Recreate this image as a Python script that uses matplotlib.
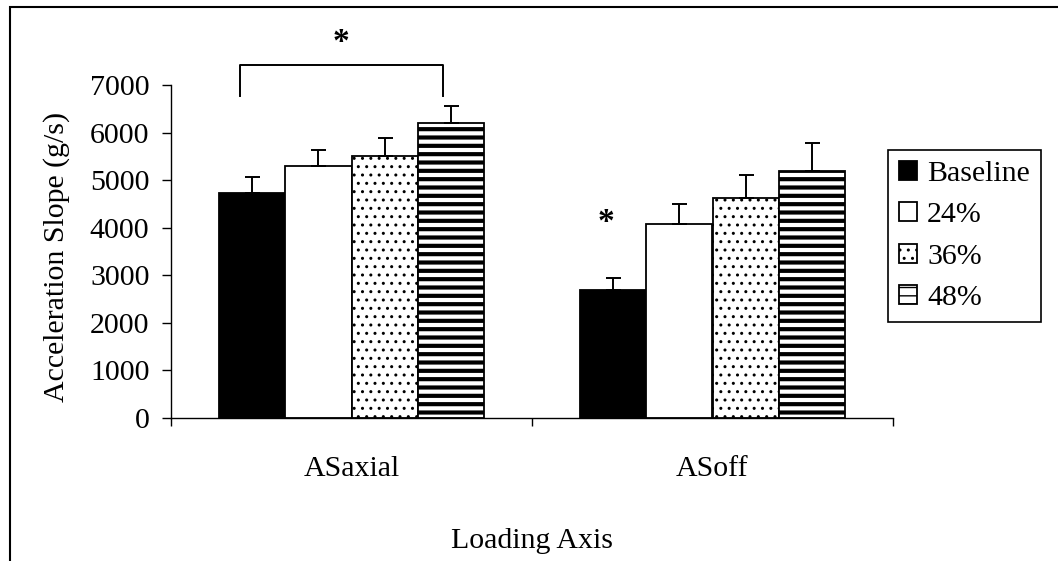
import numpy as np
import matplotlib
matplotlib.use("Agg")
import matplotlib.pyplot as plt
from matplotlib.patches import Rectangle

plt.rcParams['font.family'] = ['Liberation Serif', 'DejaVu Serif']
plt.rcParams['font.size'] = 21.5

# data
categories = ['ASaxial', 'ASoff']
series = ['Baseline', '24%', '36%', '48%']
means = {
    'Baseline': [4740, 2690],
    '24%': [5300, 4080],
    '36%': [5510, 4630],
    '48%': [6200, 5190],
}
errors = {
    'Baseline': [320, 260],
    '24%': [330, 410],
    '36%': [370, 470],
    '48%': [360, 600],
}
fills = {'Baseline': 'black', '24%': 'white', '36%': 'white', '48%': 'white'}
hatches = {'Baseline': None, '24%': None, '36%': '..', '48%': '--'}
y_ticks = [0, 1000, 2000, 3000, 4000, 5000, 6000, 7000]

W, H = 1058, 561
fig = plt.figure(figsize=(W / 100, H / 100), dpi=100)
ax = fig.add_axes([171 / W, 1 - 418 / H, (893 - 171) / W, (418 - 85) / H])

x = np.arange(len(categories))
width = 0.183
offsets = (np.arange(len(series)) - 1.5) * width

for i, name in enumerate(series):
    pos = x + offsets[i]
    bars = ax.bar(pos, means[name], width, color=fills[name], edgecolor='black',
                  linewidth=1.3, hatch=hatches[name], label=name, zorder=2)
    if name == '48%':
        for b in bars:
            if hasattr(b, 'set_hatch_linewidth'):
                b.set_hatch_linewidth(3.0)
    ax.errorbar(pos, means[name], yerr=[np.zeros(len(x)), errors[name]],
                fmt='none', ecolor='black', elinewidth=1.4, capsize=5.4,
                capthick=1.4, zorder=3)

# significance marks
left = x[0] + offsets[0] - 0.035
right = x[0] + offsets[3] - 0.022
ax.plot([left, left, right, right], [6760, 7420, 7420, 6760], color='black',
        lw=1.4, clip_on=False)
ax.text((left + right) / 2, 7900, '*', ha='center', va='center',
        fontsize=24, fontweight='bold', clip_on=False)
star_x = x[1] + offsets[0] - 0.02
ax.text(star_x, means['Baseline'][1] + errors['Baseline'][1] + 1150, '*',
        ha='center', va='center', fontsize=24, fontweight='bold')

ax.set_xlim(-0.5, 1.5)
ax.set_ylim(0, 7000)
ax.set_yticks(y_ticks)
ax.set_xticks([-0.5, 0.5, 1.5])
ax.set_xticklabels([])
ax.set_xticks(x, minor=True)
ax.set_xticklabels(categories, minor=True)
ax.tick_params(axis='x', which='major', direction='out', length=6, width=1)
ax.tick_params(axis='x', which='minor', length=0, pad=27)
ax.tick_params(axis='y', direction='out', length=6.5, width=1, pad=9)

for s in ['top', 'right']:
    ax.spines[s].set_visible(False)
for s in ['left', 'bottom']:
    ax.spines[s].set_linewidth(1)

ax.set_ylabel('Acceleration Slope (g/s)', va='center')
ax.yaxis.set_label_coords(-0.159, 0.4835)
ax.set_xlabel('Loading Axis', va='center')
ax.xaxis.set_label_coords(0.5, -0.369)

leg = ax.legend(loc='upper left', bbox_to_anchor=(888 / W, 1 - 150 / H),
                bbox_transform=fig.transFigure, fancybox=False, framealpha=1,
                edgecolor='black', borderaxespad=0, handlelength=0.6,
                handleheight=0.6, handletextpad=0.35, labelspacing=0.52,
                borderpad=0.36)
leg.get_frame().set_linewidth(1.2)

# outer border of the original figure
fig.patches.append(Rectangle((10 / W, -0.5), 2, 1 - 7 / H + 0.5,
                             transform=fig.transFigure, fill=False,
                             lw=1.5, edgecolor='black'))

fig.savefig('out.png', dpi=100)
